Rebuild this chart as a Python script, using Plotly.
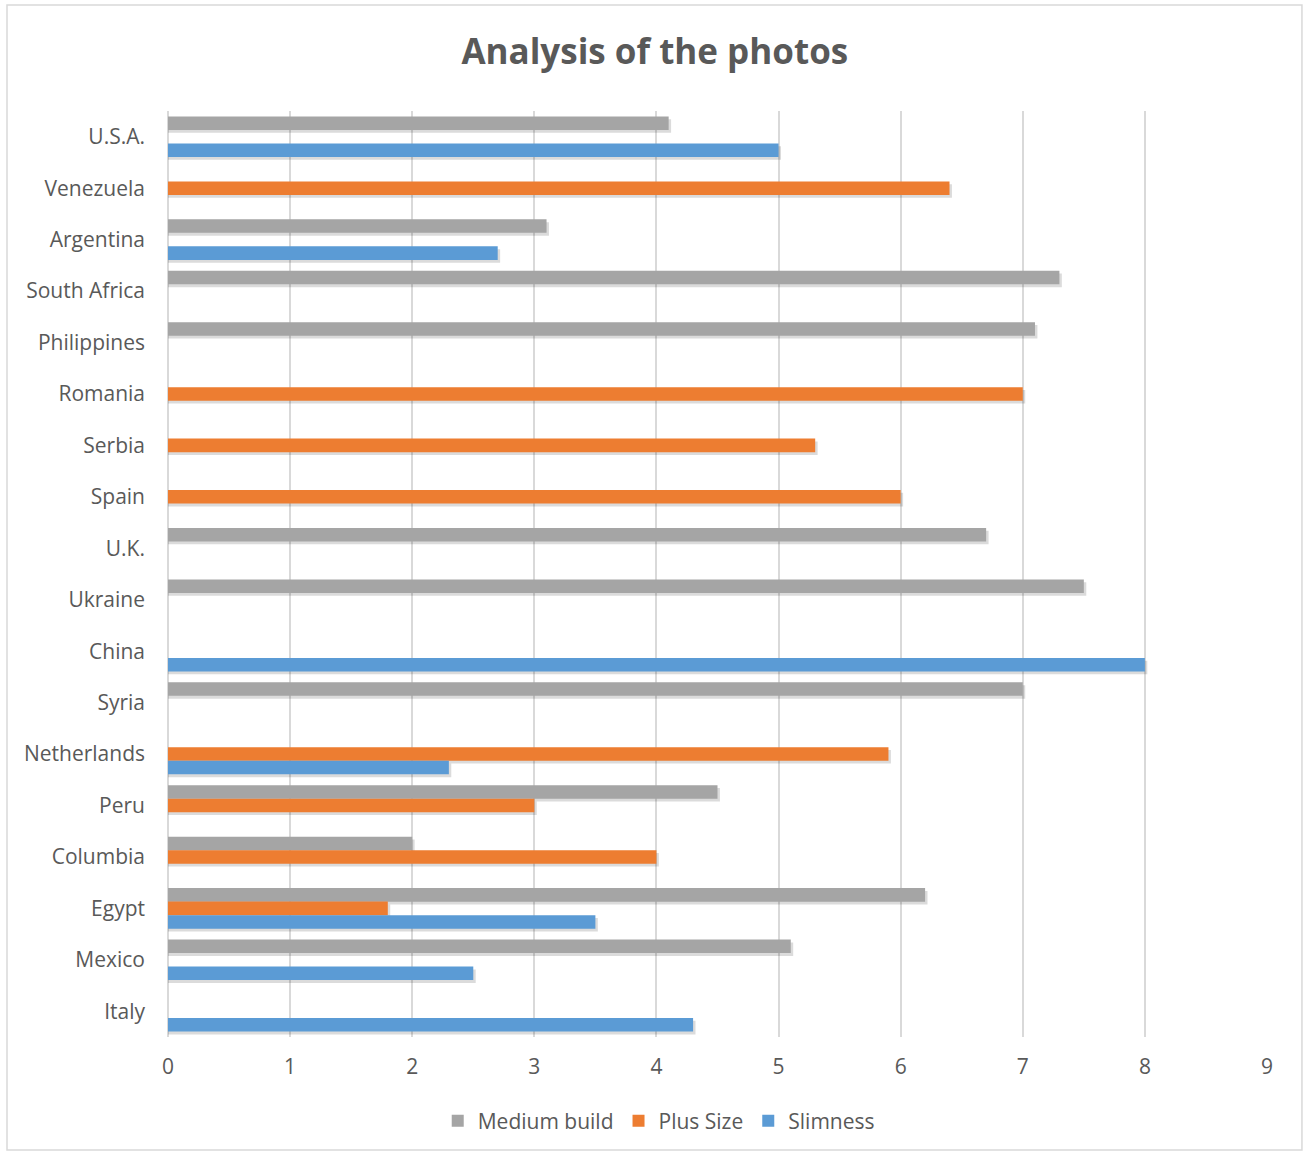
import plotly.graph_objects as go

# Countries listed from top to bottom of the chart
countries = ["U.S.A.", "Venezuela", "Argentina", "South Africa", "Philippines",
             "Romania", "Serbia", "Spain", "U.K.", "Ukraine", "China", "Syria",
             "Netherlands", "Peru", "Columbia", "Egypt", "Mexico", "Italy"]

medium_build = [4.1, None, 3.1, 7.3, 7.1, None, None, None, 6.7, 7.5, None, 7.0,
                None, 4.5, 2.0, 6.2, 5.1, None]
plus_size = [None, 6.4, None, None, None, 7.0, 5.3, 6.0, None, None, None, None,
             5.9, 3.0, 4.0, 1.8, None, None]
slimness = [5.0, None, 2.7, None, None, None, None, None, None, None, 8.0, None,
            2.3, None, None, 3.5, 2.5, 4.3]

x_ticks = [0, 1, 2, 3, 4, 5, 6, 7, 8, 9]

TEXT = "#595959"
GRID = "#D9D9D9"
FONT = "'Open Sans', sans-serif"
LABEL_SIZE = 21

series = [
    ("Medium build", medium_build, "#A5A5A5", 0.131),
    ("Plus Size", plus_size, "#ED7D31", -0.131),
    ("Slimness", slimness, "#5B9BD5", -0.394),
]
BAR_W = 0.263

fig = go.Figure()

# soft drop shadows under each bar
for name, vals, color, off in series:
    fig.add_trace(go.Bar(
        y=countries, x=[v + 0.02 if v is not None else None for v in vals],
        orientation="h", offset=off - 0.055, width=BAR_W,
        marker=dict(color="rgba(0,0,0,0.14)", line=dict(width=0)),
        showlegend=False, hoverinfo="skip",
    ))

for name, vals, color, off in series:
    fig.add_trace(go.Bar(
        y=countries, x=vals, name=name, orientation="h",
        offset=off, width=BAR_W,
        marker=dict(color=color, line=dict(width=0)),
    ))

fig.update_layout(
    width=1307, height=1153,
    barmode="overlay",
    paper_bgcolor="white", plot_bgcolor="white",
    margin=dict(l=168, r=40, t=111, b=116),
    font=dict(family=FONT, color=TEXT, size=LABEL_SIZE),
    title=dict(text="<b>Analysis of the photos</b>", x=0.501, xref="container",
               xanchor="center", y=1 - 52 / 1153, yref="container",
               yanchor="middle", font=dict(size=35, color=TEXT, family=FONT)),
    legend=dict(orientation="h", x=0.504, xref="container", xanchor="center",
                y=1 - 1121 / 1153, yref="container", yanchor="middle",
                font=dict(size=LABEL_SIZE, color=TEXT), traceorder="normal",
                itemwidth=30),
    shapes=[dict(type="rect", xref="paper", yref="paper",
                 x0=-0.1465, x1=1.0318, y0=-0.122, y1=1.1145,
                 line=dict(color=GRID, width=1.5), fillcolor="rgba(0,0,0,0)",
                 layer="below")],
)

fig.update_xaxes(range=[0, 9], tickvals=x_ticks, showgrid=True, gridcolor=GRID,
                 gridwidth=1.5, zeroline=True, zerolinecolor=GRID, zerolinewidth=1.5,
                 showline=False, ticks="", ticklabelstandoff=15,
                 tickfont=dict(size=LABEL_SIZE, color=TEXT))
fig.update_yaxes(categoryorder="array", categoryarray=countries[::-1],
                 showgrid=False, showline=False, ticks="", ticklabelstandoff=22,
                 tickfont=dict(size=LABEL_SIZE, color=TEXT))

fig.write_html("out.html")
